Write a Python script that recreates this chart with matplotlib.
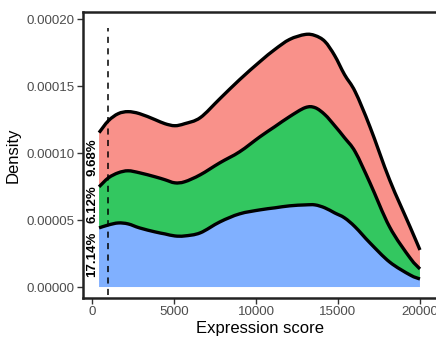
import numpy as np
import matplotlib
matplotlib.use("Agg")
import matplotlib.pyplot as plt
from matplotlib.path import Path
from matplotlib.patches import PathPatch

plt.rcParams['font.family'] = ['Liberation Sans', 'DejaVu Sans']

# expression score grid and per-group densities (stacked blue -> green -> red)
score = [430, 1000, 1600, 2200, 2900, 3850, 4450, 5050, 5650, 6600, 7800, 9000,
         10250, 11150, 12050, 13000, 13600, 14200, 14800, 15400, 16050, 16950,
         18150, 19400, 20000]
dens_blue = [4.42, 4.64, 4.79, 4.72, 4.42, 4.12, 3.97, 3.82, 3.82, 4.05, 4.87, 5.47,
             5.77, 5.92, 6.07, 6.14, 6.14, 5.92, 5.54, 5.17, 4.49, 3.30, 1.87, 0.90, 0.60]
dens_green = [3.07, 3.52, 3.75, 3.97, 4.12, 4.12, 4.05, 3.97, 4.05, 4.34, 4.42, 4.64,
              5.47, 6.07, 6.67, 7.27, 7.27, 6.97, 6.52, 5.99, 5.62, 4.49, 2.62, 1.27, 0.75]
dens_red = [4.05, 4.27, 4.42, 4.42, 4.42, 4.27, 4.19, 4.27, 4.34, 4.27, 4.79, 5.39,
            5.62, 5.77, 5.77, 5.47, 5.39, 5.47, 5.24, 4.72, 4.49, 4.19, 3.52, 2.32, 1.42]
group_colors = ['#619CFF', '#00BA38', '#F8766D']

labels = ['17.14%', '6.12%', '9.68%']
label_y = [2.47e-5, 6.22e-5, 9.74e-5]
cutoff = 1000


def smooth_segments(px, py):
    # catmull-rom through the points, as bezier control points
    p = np.column_stack([px, py])
    ext = np.vstack([p[0], p, p[-1]])
    segs = []
    for i in range(len(p) - 1):
        p0, p1, p2, p3 = ext[i], ext[i + 1], ext[i + 2], ext[i + 3]
        segs.append((p1, p1 + (p2 - p0) / 6, p2 - (p3 - p1) / 6, p2))
    return segs


def curve_path(segs):
    verts = [segs[0][0]]
    codes = [Path.MOVETO]
    for s in segs:
        verts += [s[1], s[2], s[3]]
        codes += [Path.CURVE4] * 3
    return verts, codes


x = np.array(score, dtype=float)
layers = np.array([dens_blue, dens_green, dens_red]) * 1e-5
tops = np.cumsum(layers, axis=0)

fig = plt.figure(figsize=(4.36, 3.41), dpi=100)
ax = fig.add_axes([0.1904, 0.1261, 0.8096, 0.8387])

base = np.zeros_like(x)
for top, col in zip(tops, group_colors):
    up = smooth_segments(x, top)
    lo = smooth_segments(x, base)
    verts, codes = curve_path(up)
    verts.append(lo[-1][3])
    codes.append(Path.LINETO)
    for s in lo[::-1]:
        verts += [s[2], s[1], s[0]]
        codes += [Path.CURVE4] * 3
    verts.append(verts[0])
    codes.append(Path.CLOSEPOLY)
    ax.add_patch(PathPatch(Path(verts, codes), facecolor=col, alpha=0.8, lw=0))
    base = top

for top in tops:
    verts, codes = curve_path(smooth_segments(x, top))
    ax.add_patch(PathPatch(Path(verts, codes), facecolor='none', edgecolor='black',
                           lw=2.4, capstyle='butt', joinstyle='round'))

ax.axvline(cutoff, ymin=0.0105, ymax=0.944, color='black', lw=1.1, ls=(0, (4, 3.5)))

for lab, yy in zip(labels, label_y):
    ax.text(0, yy, lab, rotation=90, ha='center', va='center',
            fontsize=9.5, fontweight='bold', color='black')

ax.set_xlim(-548, 20978)
ax.set_ylim(-0.0000082, 0.0002056)
ax.set_xticks([0, 5000, 10000, 15000, 20000])
ax.set_yticks([0, 0.00005, 0.0001, 0.00015, 0.0002])
ax.set_yticklabels(['0.00000', '0.00005', '0.00010', '0.00015', '0.00020'])
ax.set_xlabel('Expression score', fontsize=12, labelpad=2)
ax.set_ylabel('Density', fontsize=12, labelpad=4)
ax.tick_params(labelsize=9.6, labelcolor='#4D4D4D', color='#333333',
               length=4, width=1, direction='out', pad=2)
for side in ['left', 'bottom', 'top']:
    ax.spines[side].set_linewidth(1.8)
    ax.spines[side].set_color('#222222')
ax.spines['right'].set_visible(False)

fig.savefig('out.png', dpi=100)
